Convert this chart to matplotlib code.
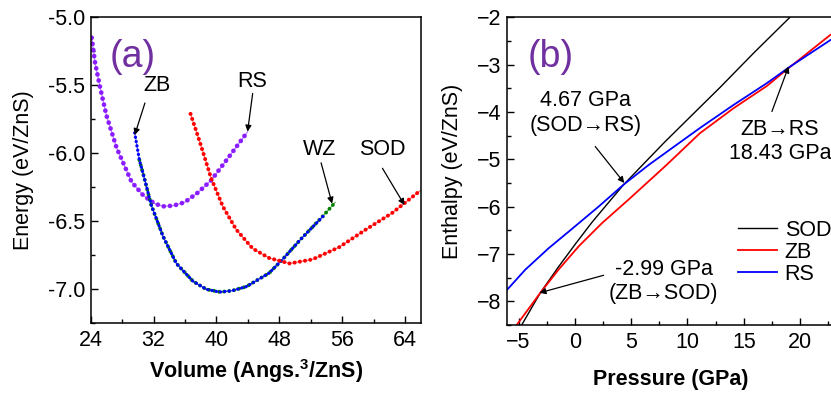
import numpy as np
import matplotlib as mpl
import matplotlib.pyplot as plt
from matplotlib.ticker import MultipleLocator

mpl.rcParams['font.family'] = ['Liberation Sans', 'DejaVu Sans']
mpl.rcParams['mathtext.fontset'] = 'custom'
mpl.rcParams['mathtext.rm'] = 'Liberation Sans'
mpl.rcParams['mathtext.bf'] = 'Liberation Sans:bold'
mpl.rcParams['font.size'] = 15.5

# (a) E-V 曲線
rs_v = [24.13, 24.55, 25.18, 26.0, 27.3, 29.2, 30.7, 32.15, 33.2, 34.5, 35.95, 37.6, 39.3, 41.4, 43.97]
rs_e = [-5.15, -5.33, -5.51, -5.72, -5.96, -6.21, -6.31, -6.37, -6.39, -6.385, -6.36, -6.29, -6.20, -6.04, -5.84]

zb_v = [29.6, 30.2, 30.9, 31.7, 33.2, 34.9, 37.0, 38.7, 40.4, 42.0, 43.8, 46.7, 48.4, 50.9, 53.6]
zb_e = [-5.85, -6.05, -6.20, -6.38, -6.61, -6.81, -6.94, -7.00, -7.02, -7.01, -6.98, -6.88, -6.78, -6.62, -6.46]

wz_v = [30.2, 30.9, 31.7, 33.2, 34.9, 37.0, 38.7, 40.5, 42.0, 43.8, 46.7, 48.4, 50.9, 53.4, 55.1]
wz_e = [-6.05, -6.20, -6.38, -6.61, -6.81, -6.94, -7.00, -7.02, -7.01, -6.98, -6.88, -6.78, -6.62, -6.47, -6.36]

sod_v = [36.7, 37.9, 39.3, 40.8, 42.5, 44.6, 46.7, 49.3, 52.2, 55.6, 59.0, 62.3, 66.0]
sod_e = [-5.71, -5.92, -6.18, -6.39, -6.56, -6.70, -6.77, -6.81, -6.78, -6.69, -6.56, -6.44, -6.27]

# (b) H-P 曲線
sod_p = [-4.7, -3.07, -1.45, 0.04, 1.52, 3.0, 4.35, 6.25, 8.0, 9.96, 12.9, 15.9, 19.1]
sod_h = [-8.49, -7.82, -7.27, -6.79, -6.33, -5.91, -5.53, -5.06, -4.63, -4.17, -3.48, -2.75, -2.0]

zbh_p = [-5.14, -3.07, -1.45, 0.33, 2.4, 4.77, 6.85, 8.18, 11.1, 14.1, 17.06, 18.84, 22.7]
zbh_h = [-8.49, -7.82, -7.33, -6.84, -6.35, -5.85, -5.40, -5.11, -4.45, -3.92, -3.45, -3.10, -2.37]

rsh_p = [-6.0, -4.4, -2.34, -0.26, 2.1, 4.35, 6.55, 8.18, 11.1, 14.1, 17.06, 19.0, 22.7]
rsh_h = [-7.75, -7.33, -6.88, -6.47, -6.00, -5.53, -5.12, -4.84, -4.34, -3.85, -3.39, -3.06, -2.48]


def dotted(ax, v, e, color, size):
    ax.plot(v, e, '-', color=color, lw=0.8, alpha=0.6)
    ax.plot(v, e, color=color, lw=size, ls=(0, (0.01, 1.3)), dash_capstyle='round')


def arrow(ax, tip, start):
    ax.annotate('', xy=tip, xytext=start,
                arrowprops=dict(arrowstyle='-|>', color='k', lw=0.9,
                                mutation_scale=9, shrinkA=0, shrinkB=0))


def style(ax):
    ax.tick_params(which='both', direction='in', top=False, right=False, labelsize=15.5)
    ax.tick_params(axis='x', pad=5)
    ax.tick_params(axis='y', pad=4)
    ax.tick_params(which='major', length=5, width=1)
    ax.tick_params(which='minor', length=3, width=1)
    for s in ax.spines.values():
        s.set_linewidth(1.1)


fig = plt.figure(figsize=(8.31, 3.93), dpi=100)

# ---- (a)
ax1 = fig.add_axes([0.1091, 0.1773, 0.3975, 0.7786])
dotted(ax1, rs_v, rs_e, '#8a1cff', 3.4)
dotted(ax1, wz_v, wz_e, '#008000', 2.8)
dotted(ax1, zb_v, zb_e, '#0000ff', 2.4)
dotted(ax1, sod_v, sod_e, '#ff0000', 2.9)

ax1.set_xlim(24, 66)
ax1.set_ylim(-7.25, -5.0)
ax1.xaxis.set_major_locator(MultipleLocator(8))
ax1.xaxis.set_minor_locator(MultipleLocator(4))
ax1.yaxis.set_major_locator(MultipleLocator(0.5))
ax1.yaxis.set_minor_locator(MultipleLocator(0.25))
ax1.yaxis.set_major_formatter(mpl.ticker.FormatStrFormatter('%.1f'))
style(ax1)
ax1.set_xlabel(r'Volume (Angs.$^{\mathbf{3}}$/ZnS)', fontweight='bold', fontsize=15.5, labelpad=4)
ax1.set_ylabel('Energy (eV/ZnS)', fontsize=15.5, labelpad=10)

ax1.text(32.4, -5.50, 'ZB', ha='center', va='center', fontsize=15.5)
ax1.text(44.6, -5.47, 'RS', ha='center', va='center', fontsize=15.5)
ax1.text(53.1, -5.97, 'WZ', ha='center', va='center', fontsize=15.5)
ax1.text(61.05, -5.97, 'SOD', ha='center', va='center', fontsize=15.5)
arrow(ax1, (29.6, -5.865), (30.9, -5.63))
arrow(ax1, (43.95, -5.84), (44.6, -5.56))
arrow(ax1, (54.7, -6.37), (53.3, -6.07))
arrow(ax1, (63.9, -6.38), (61.1, -6.11))
ax1.text(0.058, 0.87, '(a)', transform=ax1.transAxes, ha='left', va='center',
         fontsize=27, color='#7030a0')

# ---- (b)
ax2 = fig.add_axes([0.6105, 0.173, 0.3929, 0.783])
ax2.plot(sod_p, sod_h, color='k', lw=1.0, label='SOD')
ax2.plot(zbh_p, zbh_h, color='#ff0000', lw=1.3, label='ZB')
ax2.plot(rsh_p, rsh_h, color='#0000ff', lw=1.3, label='RS')
ax2.set_xlim(-6, 23)
ax2.set_ylim(-8.5, -2)
ax2.xaxis.set_major_locator(MultipleLocator(5))
ax2.xaxis.set_minor_locator(MultipleLocator(2.5))
ax2.yaxis.set_major_locator(MultipleLocator(1))
ax2.yaxis.set_minor_locator(MultipleLocator(0.5))
style(ax2)
ax2.set_xlabel('Pressure (GPa)', fontweight='bold', fontsize=15.5, labelpad=11.5)
ax2.set_ylabel('Enthalpy (eV/ZnS)', fontsize=15.5, labelpad=10)

ax2.text(0.92, -4.02, '4.67 GPa\n(SOD\u2192RS)', ha='center', va='center',
         fontsize=15.5, multialignment='center', linespacing=1.2)
ax2.text(18.2, -4.63, 'ZB\u2192RS\n18.43 GPa', ha='center', va='center',
         fontsize=15.5, multialignment='center', linespacing=1.2)
ax2.text(7.87, -7.58, '-2.99 GPa\n(ZB\u2192SOD)', ha='center', va='center',
         fontsize=15.5, multialignment='center', linespacing=1.2)
arrow(ax2, (4.39, -5.50), (1.81, -4.73))
arrow(ax2, (18.98, -3.04), (17.5, -3.99))
arrow(ax2, (-3.14, -7.82), (2.55, -7.45))
ax2.text(0.063, 0.87, '(b)', transform=ax2.transAxes, ha='left', va='center',
         fontsize=27, color='#7030a0')

ax2.legend(loc='upper left', bbox_to_anchor=(738 / 831, 1 - 220 / 393),
           bbox_transform=fig.transFigure, frameon=False, fontsize=15.5,
           handlelength=1.8, handletextpad=0.37, labelspacing=0.04, borderpad=0,
           borderaxespad=0)

fig.savefig('out.png', dpi=100)
